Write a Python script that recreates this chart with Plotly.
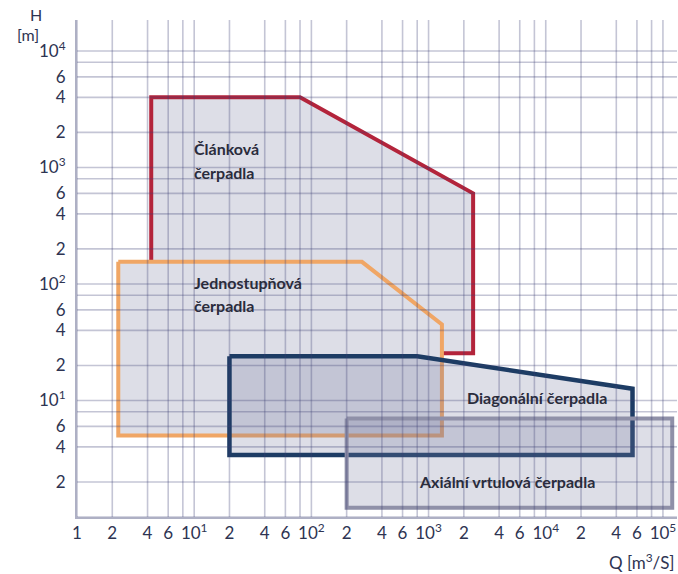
import math
import plotly.graph_objects as go

# ---------------- data ----------------
# axis ticks (labels) and grid positions
x_tickvals = [1, 2, 4, 6, 10, 20, 40, 60, 100, 200, 400, 600, 1000, 2000, 4000, 6000,
              10000, 20000, 40000, 60000, 100000]
x_ticktext = ["1", "2", "4", "6", "10<sup>1</sup>", "2", "4", "6", "10<sup>2</sup>",
              "2", "4", "6", "10<sup>3</sup>", "2", "4", "6", "10<sup>4</sup>",
              "2", "4", "6", "10<sup>5</sup>"]
y_tickvals = [2, 4, 6, 10, 20, 40, 60, 100, 200, 400, 600, 1000, 2000, 4000, 6000, 10000]
y_ticktext = ["2", "4", "6", "10<sup>1</sup>", "2", "4", "6", "10<sup>2</sup>",
              "2", "4", "6", "10<sup>3</sup>", "2", "4", "6", "10<sup>4</sup>"]
x_grid = [1, 2, 4, 6, 8, 10, 20, 40, 60, 80, 100, 200, 400, 600, 800, 1000, 2000, 4000,
          6000, 8000, 10000, 20000, 40000, 60000, 80000, 100000]
y_grid = [1, 2, 4, 6, 8, 10, 20, 40, 60, 80, 100, 200, 400, 600, 800, 1000, 2000, 4000,
          6000, 8000, 10000]

# pump regions (Q [m3/s], H [m])
clankova_fill_q = [4.3, 4.3, 80, 2400, 2400, 1300, 1300, 270, 4.3]
clankova_fill_h = [155, 4000, 4000, 600, 25.5, 25.5, 45, 155, 155]
clankova_line_q = [4.3, 4.3, 80, 2400, 2400, 1300]
clankova_line_h = [155, 4000, 4000, 600, 25.5, 25.5]

jedno_q = [2.25, 270, 1300, 1300, 2.25, 2.25]
jedno_h = [155, 155, 45, 5, 5, 155]

diag_q = [20, 800, 55000, 55000, 20, 20]
diag_h = [24, 24, 12.6, 3.4, 3.4, 24]

axial_q = [200, 120000, 120000, 200, 200]
axial_h = [7, 7, 1.2, 1.2, 7]

# region label anchors (Q, H)
labels = [
    ("Článková", 9.6, 1470, "left"),
    ("čerpadla", 9.6, 897, "left"),
    ("Jednostupňová", 9.6, 102, "left"),
    ("čerpadla", 9.6, 66, "left"),
    ("Diagonální čerpadla", 8400, 10.7, "center"),
    ("Axiální vrtulová čerpadla", 4670, 2.0, "center"),
]

# ---------------- styles ----------------
FILL = "rgba(120,122,160,0.25)"
RED = "#b3243b"
ORANGE = "#f0a665"
NAVY = "#1d3c64"
GREY = "#8f90a8"
GRID = "rgba(60,62,115,0.3)"
TXT = "#2e3452"
FONT = "Lato"

fig = go.Figure()

# Článková čerpadla
fig.add_trace(go.Scatter(x=clankova_fill_q, y=clankova_fill_h, fill="toself",
                         fillcolor=FILL, mode="lines", line=dict(width=0),
                         hoverinfo="skip", showlegend=False))
fig.add_trace(go.Scatter(x=clankova_line_q, y=clankova_line_h, mode="lines",
                         line=dict(color=RED, width=4), showlegend=False))
# Jednostupňová
fig.add_trace(go.Scatter(x=jedno_q, y=jedno_h, fill="toself", fillcolor=FILL,
                         mode="lines", line=dict(color=ORANGE, width=4), showlegend=False))
# Diagonální
fig.add_trace(go.Scatter(x=diag_q, y=diag_h, fill="toself", fillcolor=FILL,
                         mode="lines", line=dict(color=NAVY, width=4.5), showlegend=False))
# Axiální
fig.add_trace(go.Scatter(x=axial_q, y=axial_h, fill="toself", fillcolor=FILL,
                         mode="lines", line=dict(color=GREY, width=4), showlegend=False))

# grid drawn above fills (multiplicative look)
shapes = []
for xv in x_grid:
    shapes.append(dict(type="line", xref="x", yref="paper", x0=xv, x1=xv, y0=0, y1=1,
                       line=dict(color=GRID, width=1.6), layer="above"))
for yv in y_grid:
    shapes.append(dict(type="line", xref="paper", yref="y", x0=0, x1=1, y0=yv, y1=yv,
                       line=dict(color=GRID, width=1.6), layer="above"))

annotations = []
for text, q, h, anchor in labels:
    annotations.append(dict(x=math.log10(q), y=math.log10(h), xref="x", yref="y",
                            text=text, showarrow=False, xanchor=anchor, yanchor="middle",
                            font=dict(family=FONT, size=16, color="#2a2c3c", weight="bold")))
annotations += [
    dict(x=-0.0683, y=1.012, xref="paper", yref="paper", text="H", showarrow=False,
         xanchor="center", yanchor="middle", font=dict(family=FONT, size=16, color=TXT)),
    dict(x=-0.082, y=0.970, xref="paper", yref="paper", text="[m]", showarrow=False,
         xanchor="center", yanchor="middle", font=dict(family=FONT, size=16, color=TXT)),
    dict(x=1.0, y=-0.0905, xref="paper", yref="paper", text="Q [m<sup>3</sup>/S]",
         showarrow=False, xanchor="right", yanchor="middle",
         font=dict(family=FONT, size=17, color=TXT)),
]

fig.update_layout(
    width=678, height=574,
    margin=dict(l=77, r=1, t=20, b=57),
    paper_bgcolor="white", plot_bgcolor="white",
    shapes=shapes, annotations=annotations,
    font=dict(family=FONT, size=17, color=TXT),
    showlegend=False,
)
fig.update_xaxes(type="log", range=[0, 5.12], showgrid=False, zeroline=False,
                 tickmode="array", tickvals=x_tickvals, ticktext=x_ticktext,
                 ticks="", showline=True, linecolor="#aeb0c4", linewidth=2,
                 tickfont=dict(family=FONT, size=17, color=TXT))
fig.update_yaxes(type="log", range=[0, 4.266], showgrid=False, zeroline=False,
                 tickmode="array", tickvals=y_tickvals, ticktext=y_ticktext,
                 ticks="", showline=True, linecolor="#aeb0c4", linewidth=2,
                 ticklabelstandoff=6,
                 tickfont=dict(family=FONT, size=17, color=TXT))

fig.write_html("out.html")
